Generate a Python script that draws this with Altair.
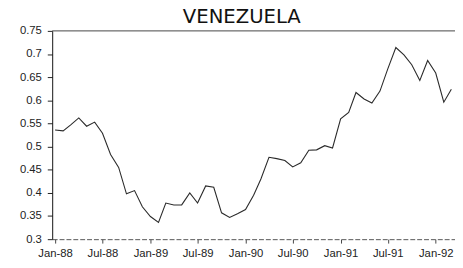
import altair as alt
import pandas as pd

# Monthly values, Jan-1988 .. Mar-1992
values = [
    0.536, 0.534, 0.547, 0.562, 0.544, 0.553, 0.529, 0.483, 0.455, 0.398, 0.405, 0.370,
    0.349, 0.336, 0.378, 0.374, 0.374, 0.400, 0.378, 0.415, 0.412, 0.357, 0.347, 0.355,
    0.364, 0.395, 0.430, 0.477, 0.474, 0.470, 0.456, 0.465, 0.492, 0.493, 0.502, 0.497,
    0.560, 0.574, 0.617, 0.603, 0.594, 0.620, 0.668, 0.714, 0.698, 0.677, 0.643, 0.686,
    0.659, 0.596, 0.624,
]
dates = [d.strftime("%Y-%m-%d") for d in pd.date_range("1988-01-01", periods=len(values), freq="MS")]
y_ticks = [0.3, 0.35, 0.4, 0.45, 0.5, 0.55, 0.6, 0.65, 0.7, 0.75]
x_tick_months = [(1988, 1), (1988, 7), (1989, 1), (1989, 7), (1990, 1), (1990, 7),
                 (1991, 1), (1991, 7), (1992, 1)]
title_text = "VENEZUELA"

df = pd.DataFrame({"date": dates, "value": values, "top": [0.75] * len(values)})

x_scale = alt.Scale(
    type="utc",
    domain=[alt.DateTime(year=1987, month=12, date=21, utc=True),
            alt.DateTime(year=1992, month=3, date=15, utc=True)],
)
y_scale = alt.Scale(domain=[0.3, 0.75], nice=False, zero=False)

x_axis = alt.Axis(
    values=[alt.DateTime(year=y, month=m, date=1, utc=True) for y, m in x_tick_months],
    format="%b-%y",
    grid=False,
    domainColor="#555",
    domainDash=[5, 2],
    tickColor="#444",
    tickSize=4,
    labelPadding=5,
    labelFont="Liberation Sans",
    labelFontSize=11.5,
    labelColor="#222",
    labelOverlap=False,
)
y_axis = alt.Axis(
    values=y_ticks,
    format=".2~f",
    grid=False,
    domainColor="#111",
    tickColor="#222",
    tickSize=5,
    labelPadding=6,
    labelFont="Liberation Sans",
    labelFontSize=11.5,
    labelColor="#222",
    labelOverlap=False,
    labelFlush=False,
)

base = alt.Chart(df)

line = base.mark_line(color="#2a2a2a", strokeWidth=1.1, clip=True).encode(
    x=alt.X("date:T", scale=x_scale, title=None, axis=x_axis),
    y=alt.Y("value:Q", scale=y_scale, title=None, axis=y_axis),
)

top_rule = base.mark_rule(color="#444", strokeWidth=1).encode(
    y=alt.Y("max(top):Q", scale=y_scale, title=None, axis=y_axis),
)

chart = alt.layer(line, top_rule).properties(
    width=410,
    height=212,
    padding={"left": 45, "top": 21, "right": 0, "bottom": 25},
    autosize=alt.AutoSizeParams(type="none"),
    title=alt.TitleParams(
        title_text,
        font="DejaVu Sans",
        fontSize=20,
        fontWeight="normal",
        color="#111",
        anchor="middle",
        frame="group",
        dx=-12,
        offset=-2,
    ),
).configure_view(stroke=None)

chart.save("out.html", embed_options={"renderer": "svg", "actions": False})
